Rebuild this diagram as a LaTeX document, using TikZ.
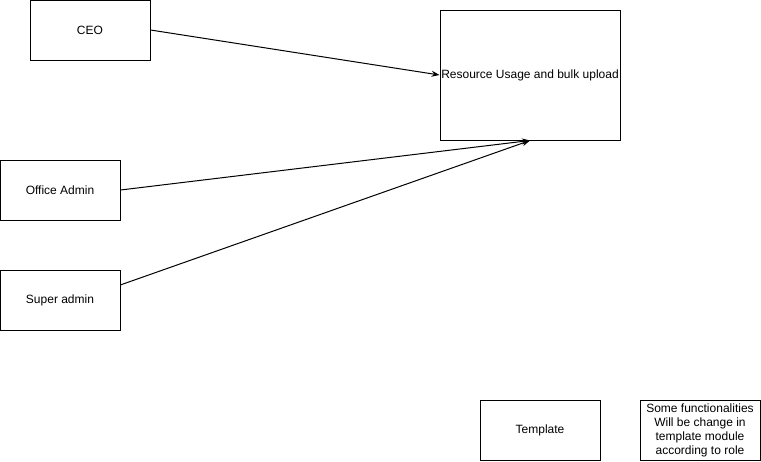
\documentclass[tikz,border=0pt]{standalone}
\usepackage{fontspec}
\setmainfont{Liberation Sans}
\usetikzlibrary{arrows.meta}

\tikzset{
  rolebox/.style={draw, line width=1pt, minimum width=120pt, minimum height=60pt, inner sep=0pt, font=\fontsize{12pt}{14pt}\selectfont},
  conn/.style={line width=1pt, -{Stealth[length=8pt,width=6pt]}}
}

\begin{document}
\begin{tikzpicture}[x=1pt,y=-1pt]
					\useasboundingbox (0,0) rectangle (761,461);
					\node[rolebox] (ceo) at (90,30) {CEO};
					\node[rolebox, minimum width=180pt, minimum height=130pt] (res) at (530,75) {Resource Usage and bulk upload};
					\node[rolebox] (oadm) at (60,190) {Office Admin};
					\node[rolebox] (sadm) at (60,300) {Super admin};
					\node[rolebox] (tpl) at (540,430) {Template};
					\node[rolebox, align=center] (note) at (700,430) {Some functionalities\\Will be change in\\template module\\according to role};
					\draw[conn] (ceo.east)--(res.west);
					\draw[conn] (oadm.east)--(res.south);
					\draw[conn] (sadm.14)--(res.south);
				\end{tikzpicture}
\end{document}
